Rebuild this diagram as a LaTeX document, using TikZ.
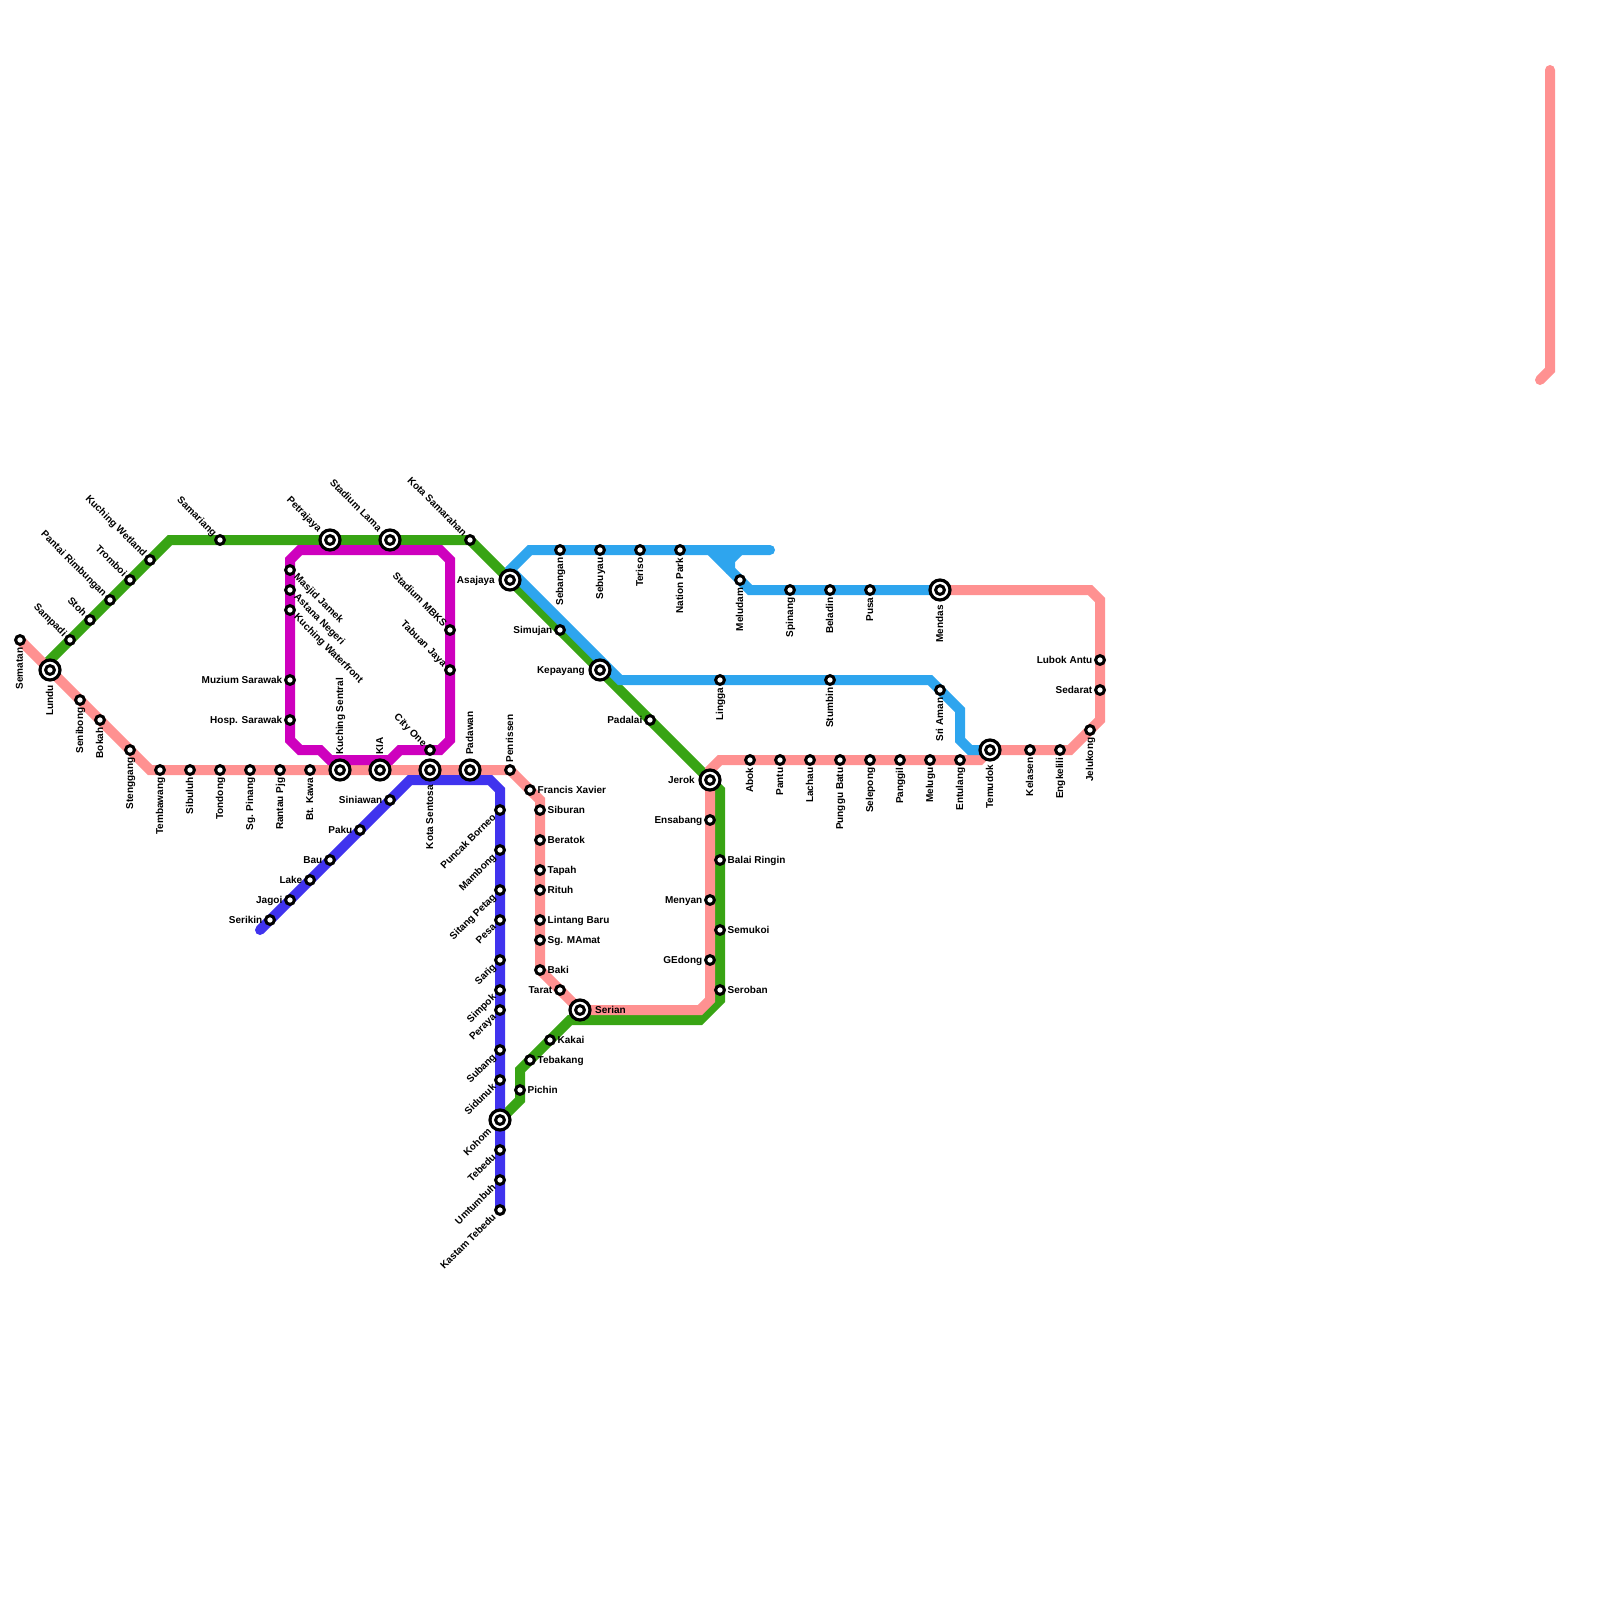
\documentclass[tikz,border=0pt]{standalone}
\usepackage{fontspec}
\setmainfont{Liberation Sans}
\usetikzlibrary{backgrounds}
\definecolor{lnpink}{HTML}{FF9191}
\definecolor{lngreen}{HTML}{38A414}
\definecolor{lnblue}{HTML}{2EA5EE}
\definecolor{lnmagenta}{HTML}{CE00BE}
\definecolor{lnviolet}{HTML}{4033EE}
\tikzset{
  metro/.style={line width=10pt,line cap=round,line join=miter},
  stnsmall/.style={circle,draw=black,fill=white,line width=3pt,minimum size=8.8pt,inner sep=0pt,outer sep=0pt},
  stnring/.style={circle,draw=black,fill=white,line width=3.2pt,minimum size=20pt,inner sep=0pt,outer sep=0pt},
  lbl/.style={font=\fontsize{10}{12}\selectfont\bfseries,text=black,inner sep=0pt,text height=6pt,text depth=0pt},
  lS/.style={shift={(0,7.5)},rotate=90,anchor=east},
  lN/.style={shift={(0,-7.5)},rotate=90,anchor=west},
  lW/.style={shift={(-7.5,0)},anchor=east},
  lE/.style={shift={(7.5,0)},anchor=west},
  lNW/.style={shift={(-5,-5)},rotate=-45,anchor=east},
  lSE/.style={shift={(5.5,5.5)},rotate=-45,anchor=west},
  lSW/.style={shift={(-5.5,5.5)},rotate=45,anchor=east},
  lSb/.style={shift={(0,15)},rotate=90,anchor=east},
  lNb/.style={shift={(0,-15)},rotate=90,anchor=west},
  lWb/.style={shift={(-15,0)},anchor=east},
  lEb/.style={shift={(15,0)},anchor=west},
  lNWb/.style={shift={(-10,-10)},rotate=-45,anchor=east},
  lSWb/.style={shift={(-10,10)},rotate=45,anchor=east},
}
\newcommand{\st}[5]{\node[stnsmall] (#1) at (#2,#3) {}; \node[lbl,#4] (#1-l) at (#2,#3) {#5};}
\newcommand{\bg}[5]{\node[stnring] (#1) at (#2,#3) {}; \node[stnsmall] (#1-c) at (#2,#3) {}; \node[lbl,#4] (#1-l) at (#2,#3) {#5};}
\begin{document}
\begin{tikzpicture}[x=1pt,y=-1pt]
\useasboundingbox (0,0) rectangle (1600,1600);
% pink line
\st{sem}{20}{640}{lS}{Sematan}
\bg{lun}{50}{670}{lSb}{Lundu}
\st{sen}{80}{700}{lS}{Senibong}
\st{bok}{100}{720}{lS}{Bokah}
\st{ste}{130}{750}{lS}{Stenggang}
\st{tem}{160}{770}{lS}{Tembawang}
\st{sib}{190}{770}{lS}{Sibuluh}
\st{ton}{220}{770}{lS}{Tondong}
\st{sgp}{250}{770}{lS}{Sg. Pinang}
\st{ran}{280}{770}{lS}{Rantau Pjg}
\st{btk}{310}{770}{lS}{Bt. Kawa}
\bg{ksn}{340}{770}{lNb}{Kuching Sentral}
\bg{kia}{380}{770}{lNb}{KIA}
\bg{kts}{430}{770}{lSb}{Kota Sentosa}
\bg{pad}{470}{770}{lNb}{Padawan}
\st{pen}{510}{770}{lN}{Penrissen}
\st{frx}{530}{790}{lE}{Francis Xavier}
\st{sbr}{540}{810}{lE}{Siburan}
\st{ber}{540}{840}{lE}{Beratok}
\st{tap}{540}{870}{lE}{Tapah}
\st{rit}{540}{890}{lE}{Rituh}
\st{lin}{540}{920}{lE}{Lintang Baru}
\st{sgm}{540}{940}{lE}{Sg. MAmat}
\st{bak}{540}{970}{lE}{Baki}
\st{tar}{560}{990}{lW}{Tarat}
\bg{ser}{580}{1010}{lEb}{Serian}
\st{ged}{710}{960}{lW}{GEdong}
\st{men}{710}{900}{lW}{Menyan}
\st{ens}{710}{820}{lW}{Ensabang}
\bg{jer}{710}{780}{lWb}{Jerok}
\st{abo}{750}{760}{lS}{Abok}
\st{pan}{780}{760}{lS}{Pantu}
\st{lac}{810}{760}{lS}{Lachau}
\st{pun}{840}{760}{lS}{Punggu Batu}
\st{sel}{870}{760}{lS}{Selepong}
\st{pgg}{900}{760}{lS}{Panggil}
\st{mel}{930}{760}{lS}{Melugu}
\st{ent}{960}{760}{lS}{Entulang}
\bg{tmd}{990}{750}{lSb}{Temudok}
\st{kel}{1030}{750}{lS}{Kelasen}
\st{eng}{1060}{750}{lS}{Engkelili}
\st{jel}{1090}{730}{lS}{Jelukong}
\st{sed}{1100}{690}{lW}{Sedarat}
\st{lub}{1100}{660}{lW}{Lubok Antu}
\bg{mnd}{940}{590}{lSb}{Mendas}
% green line
\st{smp}{70}{640}{lNW}{Sampadi}
\st{sto}{90}{620}{lNW}{Stoh}
\st{prm}{110}{600}{lNW}{Pantai Rimbungan}
\st{tro}{130}{580}{lNW}{Tromboi}
\st{kwt}{150}{560}{lNW}{Kuching Wetland}
\st{sam}{220}{540}{lNW}{Samariang}
\bg{pet}{330}{540}{lNWb}{Petrajaya}
\bg{stl}{390}{540}{lNWb}{Stadium Lama}
\st{kot}{470}{540}{lNW}{Kota Samarahan}
\bg{asa}{510}{580}{lWb}{Asajaya}
\st{smj}{560}{630}{lW}{Simujan}
\bg{kep}{600}{670}{lWb}{Kepayang}
\st{pdl}{650}{720}{lW}{Padalai}
\st{bal}{720}{860}{lE}{Balai Ringin}
\st{smk}{720}{930}{lE}{Semukoi}
\st{srb}{720}{990}{lE}{Seroban}
\st{kak}{550}{1040}{lE}{Kakai}
\st{teb}{530}{1060}{lE}{Tebakang}
\st{pic}{520}{1090}{lE}{Pichin}
\bg{koh}{500}{1120}{lSWb}{Kohom}
% blue line
\st{sbg}{560}{550}{lS}{Sebangan}
\st{sby}{600}{550}{lS}{Sebuyau}
\st{ter}{640}{550}{lS}{Teriso}
\st{nat}{680}{550}{lS}{Nation Park}
\st{mld}{740}{580}{lS}{Meludam}
\st{spi}{790}{590}{lS}{Spinang}
\st{bel}{830}{590}{lS}{Beladin}
\st{pus}{870}{590}{lS}{Pusa}
\st{lgg}{720}{680}{lS}{Lingga}
\st{stu}{830}{680}{lS}{Stumbin}
\st{sra}{940}{690}{lS}{Sri Aman}
% magenta line
\st{mas}{290}{570}{lSE}{Masjid Jamek}
\st{ast}{290}{590}{lSE}{Astana Negeri}
\st{kwf}{290}{610}{lSE}{Kuching Waterfront}
\st{muz}{290}{680}{lW}{Muzium Sarawak}
\st{hos}{290}{720}{lW}{Hosp. Sarawak}
\st{mbk}{450}{630}{lNW}{Stadium MBKS}
\st{tab}{450}{670}{lNW}{Tabuan Jaya}
\st{cty}{430}{750}{lNW}{City One}
% violet line
\st{srk}{270}{920}{lW}{Serikin}
\st{jag}{290}{900}{lW}{Jagoi}
\st{lak}{310}{880}{lW}{Lake}
\st{bau}{330}{860}{lW}{Bau}
\st{pak}{360}{830}{lW}{Paku}
\st{sin}{390}{800}{lW}{Siniawan}
\st{pbo}{500}{810}{lSW}{Puncak Borneo}
\st{mam}{500}{850}{lSW}{Mambong}
\st{sit}{500}{890}{lSW}{Sitang Petag}
\st{pes}{500}{920}{lSW}{Pesa}
\st{sar}{500}{960}{lSW}{Sarig}
\st{sim}{500}{990}{lSW}{Simpok}
\st{per}{500}{1010}{lSW}{Peraya}
\st{sub}{500}{1050}{lSW}{Subang}
\st{sid}{500}{1080}{lSW}{Sidunuk}
\st{tbd}{500}{1150}{lSW}{Tebedu}
\st{umt}{500}{1180}{lSW}{Umtumbuh}
\st{kas}{500}{1210}{lSW}{Kastam Tebedu}
\begin{scope}[on background layer]
% corner points
\coordinate (g1) at (50,660); \coordinate (g2) at (170,540);
\coordinate (g3) at (720,790); \coordinate (g4) at (720,1000);
\coordinate (g5) at (700,1020); \coordinate (g6) at (570,1020);
\coordinate (g7) at (520,1070); \coordinate (g8) at (520,1100);
\coordinate (p1) at (150,770); \coordinate (p2) at (540,800);
\coordinate (p3) at (710,1000); \coordinate (p4) at (700,1010);
\coordinate (p5) at (710,770); \coordinate (p6) at (720,760);
\coordinate (p7) at (980,760); \coordinate (p8) at (1070,750);
\coordinate (p9) at (1100,720); \coordinate (p10) at (1100,600);
\coordinate (p11) at (1090,590);
\coordinate (q1) at (1550,70); \coordinate (q2) at (1550,370); \coordinate (q3) at (1540,380);
\coordinate (b1) at (510,570); \coordinate (b2) at (530,550); \coordinate (b3) at (770,550);
\coordinate (b4) at (710,550); \coordinate (b5) at (750,590);
\coordinate (b6) at (740,550); \coordinate (b7) at (730,560); \coordinate (b8) at (730,570);
\coordinate (b9) at (620,680); \coordinate (b10) at (930,680); \coordinate (b11) at (960,710);
\coordinate (b12) at (960,740); \coordinate (b13) at (970,750);
\coordinate (m1) at (290,560); \coordinate (m2) at (300,550); \coordinate (m3) at (440,550);
\coordinate (m4) at (450,560); \coordinate (m5) at (450,740); \coordinate (m6) at (440,750);
\coordinate (m7) at (400,750); \coordinate (m8) at (390,760); \coordinate (m9) at (330,760);
\coordinate (m10) at (320,750); \coordinate (m11) at (300,750); \coordinate (m12) at (290,740);
\coordinate (v1) at (260,930); \coordinate (v2) at (410,780); \coordinate (v3) at (490,780);
\coordinate (v4) at (500,790);
% green
\draw[metro,lngreen] (lun.center) -- (g1) -- (g2) -- (sam.center) -- (pet.center) -- (stl.center) -- (kot.center)
  -- (asa.center) -- (smj.center) -- (kep.center) -- (pdl.center) -- (jer.center) -- (g3) -- (bal.center)
  -- (smk.center) -- (srb.center) -- (g4) -- (g5) -- (g6) -- (kak.center) -- (teb.center) -- (g7)
  -- (pic.center) -- (g8) -- (koh.center);
% pink
\draw[metro,lnpink] (sem.center) -- (lun.center) -- (sen.center) -- (bok.center) -- (ste.center) -- (p1) -- (tem.center)
  -- (sib.center) -- (ton.center) -- (sgp.center) -- (ran.center) -- (btk.center) -- (ksn.center) -- (kia.center)
  -- (kts.center) -- (pad.center) -- (pen.center) -- (frx.center) -- (p2) -- (sbr.center) -- (ber.center) -- (tap.center)
  -- (rit.center) -- (lin.center) -- (sgm.center) -- (bak.center) -- (tar.center) -- (ser.center) -- (p4) -- (p3)
  -- (ged.center) -- (men.center) -- (ens.center) -- (jer.center) -- (p5) -- (p6) -- (abo.center) -- (pan.center)
  -- (lac.center) -- (pun.center) -- (sel.center) -- (pgg.center) -- (mel.center) -- (ent.center) -- (p7)
  -- (tmd.center) -- (kel.center) -- (eng.center) -- (p8) -- (jel.center) -- (p9) -- (sed.center) -- (lub.center)
  -- (p10) -- (p11) -- (mnd.center);
\draw[metro,lnpink] (q1) -- (q2) -- (q3);
% blue
\draw[metro,lnblue] (asa.center) -- (b1) -- (b2) -- (sbg.center) -- (sby.center) -- (ter.center) -- (nat.center) -- (b3);
\draw[metro,lnblue] (b4) -- (mld.center) -- (b5) -- (spi.center) -- (bel.center) -- (pus.center) -- (mnd.center);
\draw[metro,lnblue] (b6) -- (b7) -- (b8);
\fill[lnblue] (b4) -- (b6) -- (b7) -- (b8) -- cycle;
\draw[metro,lnblue] (b1) -- (b9) -- (lgg.center) -- (stu.center) -- (b10) -- (sra.center) -- (b11) -- (b12) -- (b13) -- (tmd.center);
% magenta
\draw[metro,lnmagenta] (mas.center) -- (m1) -- (m2) -- (m3) -- (m4) -- (mbk.center) -- (tab.center) -- (m5) -- (m6)
  -- (cty.center) -- (m7) -- (m8) -- (m9) -- (m10) -- (m11) -- (m12) -- (hos.center) -- (muz.center) -- (kwf.center)
  -- (ast.center) -- (mas.center);
% violet
\draw[metro,lnviolet] (v1) -- (srk.center) -- (jag.center) -- (lak.center) -- (bau.center) -- (pak.center) -- (sin.center)
  -- (v2) -- (v3) -- (v4) -- (pbo.center) -- (mam.center) -- (sit.center) -- (pes.center) -- (sar.center) -- (sim.center)
  -- (per.center) -- (sub.center) -- (sid.center) -- (koh.center) -- (tbd.center) -- (umt.center) -- (kas.center);
\end{scope}
\end{tikzpicture}
\end{document}
